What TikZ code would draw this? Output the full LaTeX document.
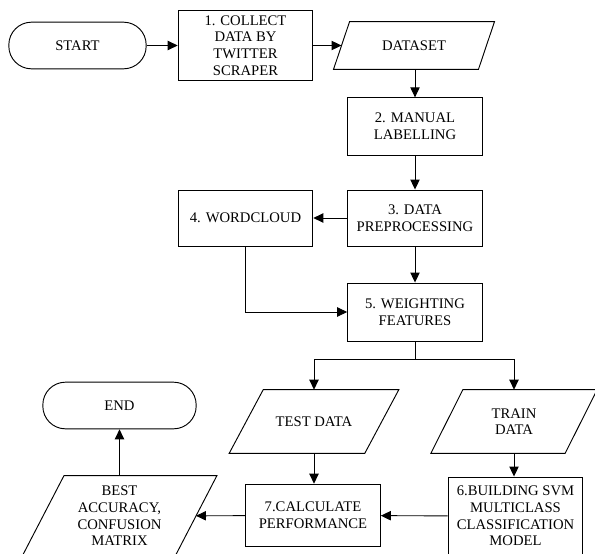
\documentclass[tikz,border=0pt]{standalone}
\usepackage{fontspec}
\setmainfont{Liberation Serif}
\usepackage{tikz}
\usetikzlibrary{shapes,arrows.meta,positioning}

% parallelogram round a plain node: #1 node name, #2 half of the slant
\newcommand{\ioshape}[2]{%
  \draw[line width=0.7pt] ([xshift=-#2]#1.south west) -- ([xshift=#2]#1.north west)
    -- ([xshift=#2]#1.north east) -- ([xshift=-#2]#1.south east) -- cycle;}

\begin{document}
\begin{tikzpicture}[x=0.75pt, y=-0.75pt,
    every node/.style={font=\fontsize{11}{12.5}\selectfont, align=center, line width=0.7pt},
    term/.style={draw, rectangle, rounded corners=17pt, minimum height=35pt},
    proc/.style={draw, rectangle, minimum width=101pt, inner sep=2pt},
    io/.style={rectangle, inner sep=1pt},
    link/.style={-{Triangle[length=7.5pt,width=7pt]}, line width=0.7pt}]
    \clip (0,0) rectangle (595,553);

    \node[term, minimum width=103pt] (start) at (77.5,45.5) {START};
    \node[proc, minimum height=53pt] (collect) at (245.5,45.5) {1. COLLECT\\DATA BY\\TWITTER\\SCRAPER};
    \node[io, minimum width=108pt, minimum height=35pt] (dataset) at (414,45.5) {DATASET};
    \ioshape{dataset}{6pt}
    
    \node[proc, minimum height=43pt] (label) at (415,126.5) {2. MANUAL\\LABELLING};
    \node[proc, minimum height=42pt] (prep) at (415,218) {3. DATA\\PREPROCESSING};
    \node[proc, minimum height=42pt] (cloud) at (245.5,218) {4. WORDCLOUD};
    \node[proc, minimum height=43.5pt] (weight) at (415,312) {5. WEIGHTING\\FEATURES};
    \coordinate (split) at (415,359);

    \node[io, minimum width=101pt, minimum height=47pt] (test) at (314,421.5) {TEST DATA};
    \ioshape{test}{12.75pt}
    \node[io, minimum width=100pt, minimum height=47pt] (train) at (514,421.5) {TRAIN\\DATA};
    \ioshape{train}{12pt}
    \node[proc, minimum height=58.5pt] (svm) at (515.5,516) {6.BUILDING SVM\\MULTICLASS\\CLASSIFICATION\\MODEL};
    \node[proc, minimum height=47pt] (perf) at (313,515.5) {7.CALCULATE\\PERFORMANCE};
    \node[io, minimum width=114pt, minimum height=60pt] (best) at (119.5,516) {BEST\\ACCURACY,\\CONFUSION\\MATRIX};
    \ioshape{best}{15.75pt}
    \node[term, minimum width=115pt] (end) at (119.5,405.5) {END};

    \draw[link] (start) -- (collect);
    \draw[link] (collect) -- (dataset);
    \draw[link] (dataset.south -| label) -- (label);
    \draw[link] (label) -- (prep);
    \draw[link] (prep) -- (cloud);
    \draw[link] (prep) -- (weight);
    \draw[link] (cloud) |- (weight);
    \draw[line width=0.7pt] (weight) -- (split);
    \draw[link] (split) -| (test);
    \draw[link] (split) -| (train);
    \draw[link] (train) -- (train |- svm.north);
    \draw[link] (test) -- (test |- perf.north);
    \draw[link] (svm) -- (perf);
    \draw[link] (perf) -- (best);
    \draw[link] (best) -- (end);
\end{tikzpicture}
\end{document}
